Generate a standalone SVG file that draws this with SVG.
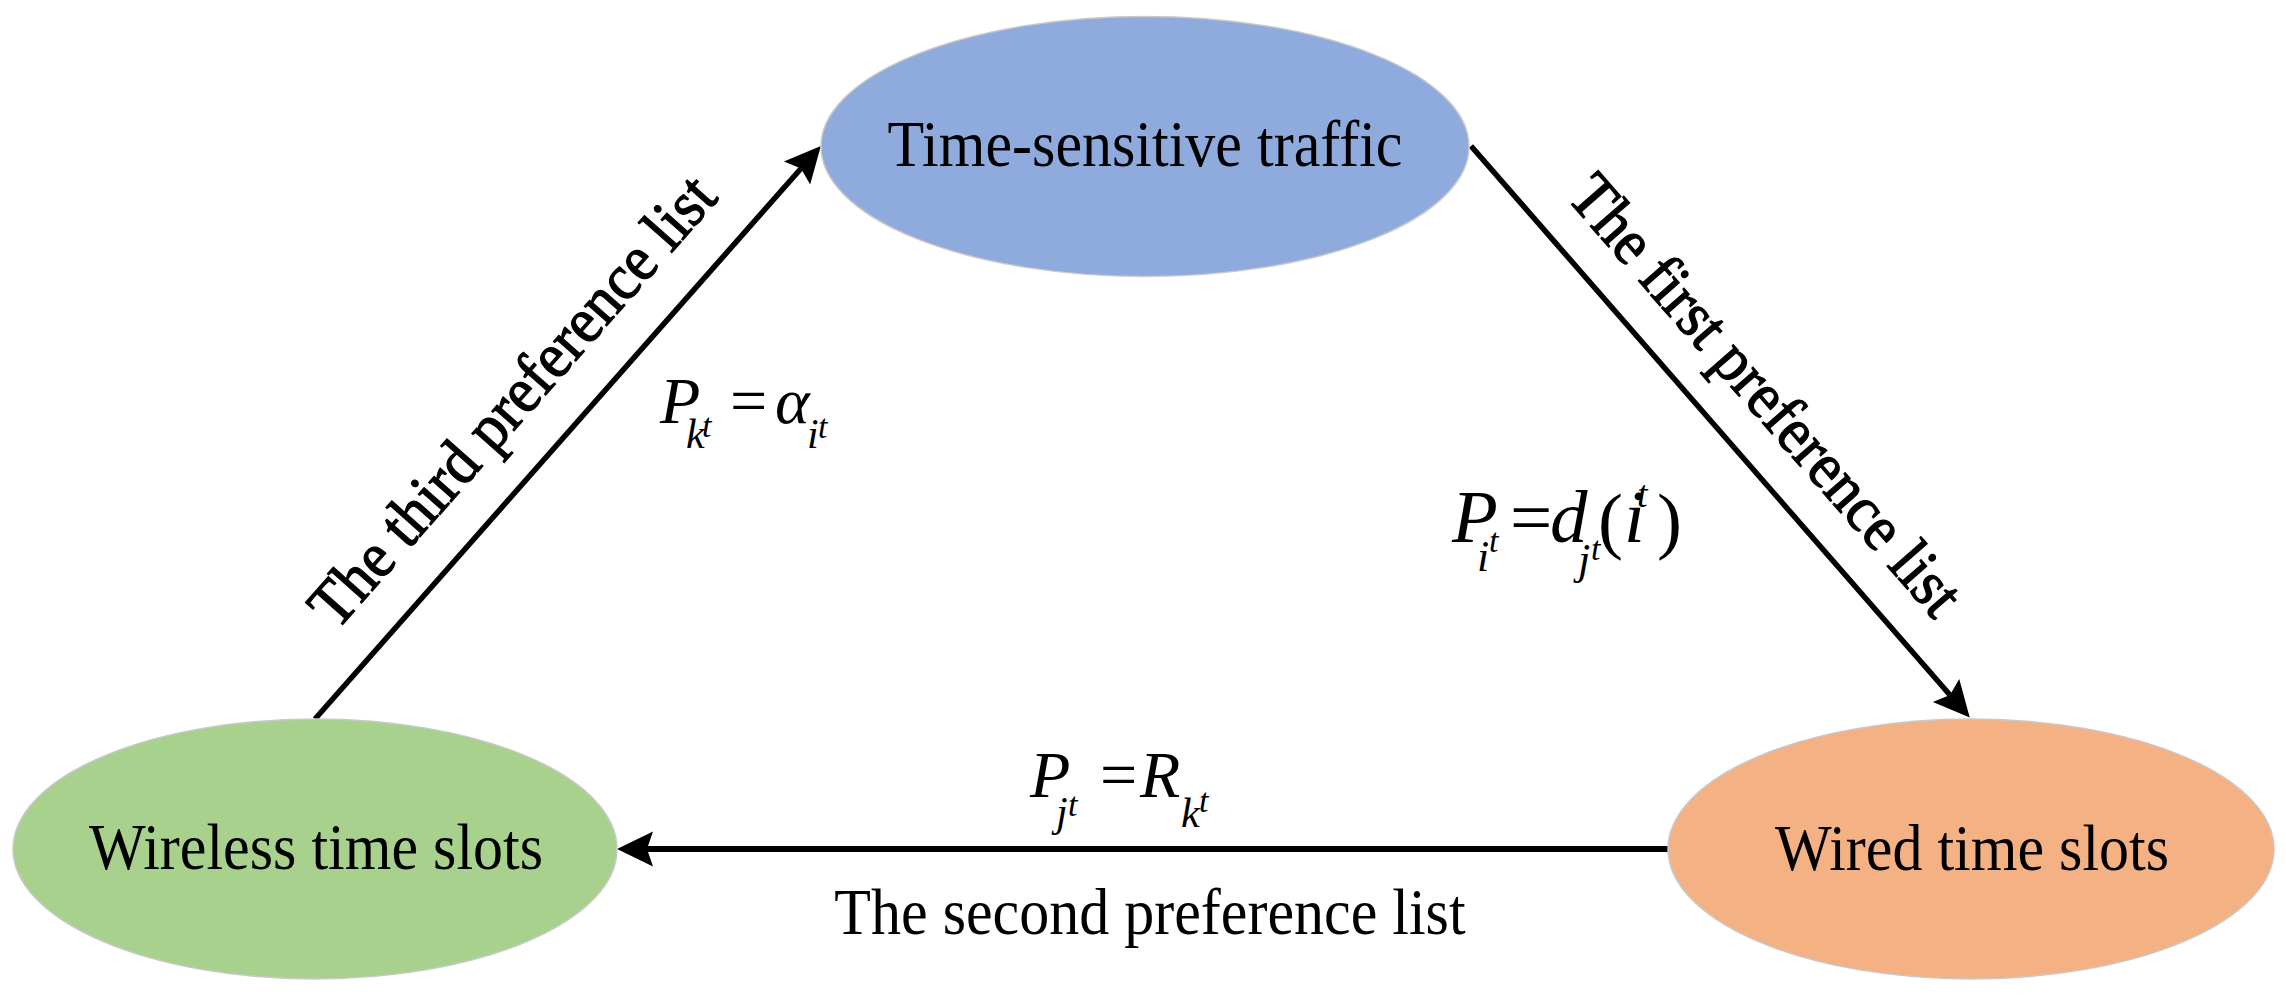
<svg xmlns="http://www.w3.org/2000/svg" width="2286" height="995" viewBox="0 0 2286 995">
<style>
.node{stroke:#C9C9C9;stroke-width:1.5}
.lbl{font-family:"Liberation Serif","Times New Roman",serif;font-size:60px;fill:#000}
.rot{stroke:#000;stroke-width:1.2}
.math{font-family:"Liberation Serif","Times New Roman",serif;font-style:italic;fill:#000}
.up{font-style:normal}
.edge{stroke:#000;fill:none}
</style>
<defs>
<marker id="ah" markerUnits="userSpaceOnUse" viewBox="-2 -20 42 40" markerWidth="42" markerHeight="40" refX="6" refY="0" orient="auto">
<path d="M0,-17.5 L36,0 L0,17.5 L6,0 Z" fill="#000"/>
</marker>
</defs>
<rect width="2286" height="995" fill="#fff"/>
<g id="connectors">
<line class="edge" x1="1471" y1="146" x2="1950" y2="695" stroke-width="5.5" marker-end="url(#ah)"/>
<line class="edge" x1="1668" y1="849" x2="647" y2="849" stroke-width="6" marker-end="url(#ah)"/>
<line class="edge" x1="315" y1="719" x2="801" y2="168.5" stroke-width="5.5" marker-end="url(#ah)"/>
<text class="lbl rot" transform="translate(1750,409) rotate(48.9) scale(1,1.08)" text-anchor="middle">The first preference list</text>
<text class="lbl" transform="translate(1150,934) scale(1,1.08)" text-anchor="middle">The second preference list</text>
<text class="lbl rot" transform="translate(528,415) rotate(-48.5) scale(1,1.08)" text-anchor="middle">The third preference list</text>
</g>
<g id="node-traffic">
<ellipse class="node" cx="1145" cy="146.5" rx="324" ry="130" fill="#8FAADC"/>
<text class="lbl" transform="translate(1145,166) scale(1,1.08)" text-anchor="middle">Time-sensitive traffic</text>
</g>
<g id="node-wireless">
<ellipse class="node" cx="315" cy="849" rx="302" ry="130" fill="#A9D18E"/>
<text class="lbl" transform="translate(316,869) scale(1,1.08)" text-anchor="middle">Wireless time slots</text>
</g>
<g id="node-wired">
<ellipse class="node" cx="1971" cy="849" rx="303" ry="130" fill="#F4B183"/>
<text class="lbl" transform="translate(1972,870) scale(1,1.08)" text-anchor="middle">Wired time slots</text>
</g>
<g id="formula-third">
<text class="math" x="660" y="423" font-size="66">P</text>
<text class="math" x="686" y="448" font-size="42">k</text>
<text class="math" x="702" y="437" font-size="34">t</text>
<text class="math up" x="730" y="423" font-size="66">=</text>
<text class="math" x="775" y="423" font-size="66">α</text>
<text class="math" x="807" y="448" font-size="42">i</text>
<text class="math" x="818" y="438" font-size="34">t</text>
</g>
<g id="formula-first">
<text class="math" x="1452" y="542" font-size="75">P</text>
<text class="math" x="1477" y="571" font-size="44">i</text>
<text class="math" x="1489" y="552" font-size="34">t</text>
<text class="math up" x="1510" y="542" font-size="75">=</text>
<text class="math" x="1550" y="542" font-size="75">d</text>
<text class="math" x="1578" y="574" font-size="44">j</text>
<text class="math" x="1591" y="560" font-size="34">t</text>
<text class="math up" x="1598" y="545" font-size="75">(</text>
<text class="math" x="1624" y="542" font-size="75">i</text>
<text class="math" x="1637" y="507" font-size="38">t</text>
<text class="math up" x="1657" y="545" font-size="75">)</text>
</g>
<g id="formula-second">
<text class="math" x="1030" y="797" font-size="66">P</text>
<text class="math" x="1056" y="826" font-size="42">j</text>
<text class="math" x="1068" y="816" font-size="34">t</text>
<text class="math up" x="1100" y="797" font-size="66">=</text>
<text class="math" x="1140" y="797" font-size="66">R</text>
<text class="math" x="1181" y="827" font-size="42">k</text>
<text class="math" x="1199" y="812" font-size="34">t</text>
</g>
</svg>
